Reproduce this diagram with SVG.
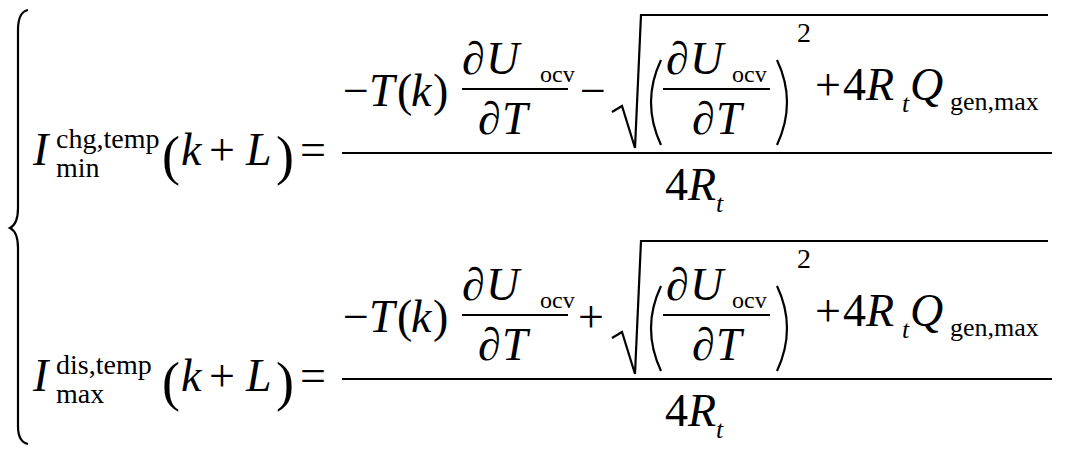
<svg xmlns="http://www.w3.org/2000/svg" width="1066" height="454" viewBox="0 0 1066 454" font-family="'Times New Roman','Liberation Serif','Nimbus Roman',Times,serif">
<style>
text{font-family:"Times New Roman","Liberation Serif",Times,serif;fill:#000;font-size:46px}
.i{font-style:italic}.s{font-size:28px}.o{font-size:24px}.g{font-size:26px}.p{font-size:54px}
.l{stroke:#000;stroke-width:2.2;fill:none}
</style>
<rect width="1066" height="454" fill="#fff"/>
<path class="l" d="M28,10 Q18,12 18,30 L18,208 Q18,224 10,228 Q18,232 18,248 L18,426 Q18,442 28,444"/>
<g id="eq1">
<text class="i" x="33" y="165">I</text>
<text class="s" x="56" y="148">chg,temp</text>
<text class="s" x="56" y="177">min</text>
<text class="p" x="162" y="174">(</text>
<text class="i" x="181" y="165">k</text>
<text x="209" y="165">+</text>
<text class="i" x="246" y="165">L</text>
<text class="p" x="276" y="174">)</text>
<text x="300" y="165">=</text>
<line class="l" x1="342" y1="153" x2="1052" y2="153"/>
<text x="343" y="106">−</text>
<text class="i" x="369" y="106">T</text>
<text x="397" y="106">(</text>
<text class="i" x="411" y="106">k</text>
<text x="433" y="106">)</text>
<text x="462" y="74">∂</text>
<text class="i" x="486" y="74">U</text>
<text class="o" x="540" y="82">ocv</text>
<line class="l" x1="462" y1="89" x2="568" y2="89"/>
<text x="478" y="134">∂</text>
<text class="i" x="502" y="134">T</text>
<text x="580" y="106">−</text>
<path class="l" d="M612,112 L622,106 L635,148 L641,15 L1048,15"/>
<path class="l" d="M661,60 Q641,102 661,145"/>
<text x="666" y="74">∂</text>
<text class="i" x="690" y="74">U</text>
<text class="o" x="732" y="82">ocv</text>
<line class="l" x1="663" y1="89" x2="770" y2="89"/>
<text x="692" y="134">∂</text>
<text class="i" x="716" y="134">T</text>
<path class="l" d="M777,60 Q797,102 777,145"/>
<text class="s" x="797" y="42">2</text>
<text x="815" y="100">+</text>
<text x="843" y="100">4</text>
<text class="i" x="866" y="100">R</text>
<text class="g i" x="902" y="112">t</text>
<text class="i" x="910" y="100">Q</text>
<text class="g" x="950" y="110">gen,max</text>
<text x="665" y="200">4</text>
<text class="i" x="688" y="200">R</text>
<text class="g i" x="716" y="212">t</text>
</g>
<g id="eq2" transform="translate(0,226)">
<text class="i" x="33" y="165">I</text>
<text class="s" x="56" y="148">dis,temp</text>
<text class="s" x="56" y="177">max</text>
<text class="p" x="162" y="174">(</text>
<text class="i" x="181" y="165">k</text>
<text x="209" y="165">+</text>
<text class="i" x="246" y="165">L</text>
<text class="p" x="276" y="174">)</text>
<text x="300" y="165">=</text>
<line class="l" x1="342" y1="153" x2="1052" y2="153"/>
<text x="343" y="106">−</text>
<text class="i" x="369" y="106">T</text>
<text x="397" y="106">(</text>
<text class="i" x="411" y="106">k</text>
<text x="433" y="106">)</text>
<text x="462" y="74">∂</text>
<text class="i" x="486" y="74">U</text>
<text class="o" x="540" y="82">ocv</text>
<line class="l" x1="462" y1="89" x2="568" y2="89"/>
<text x="478" y="134">∂</text>
<text class="i" x="502" y="134">T</text>
<text x="578" y="106">+</text>
<path class="l" d="M612,112 L622,106 L635,148 L641,15 L1048,15"/>
<path class="l" d="M661,60 Q641,102 661,145"/>
<text x="666" y="74">∂</text>
<text class="i" x="690" y="74">U</text>
<text class="o" x="732" y="82">ocv</text>
<line class="l" x1="663" y1="89" x2="770" y2="89"/>
<text x="692" y="134">∂</text>
<text class="i" x="716" y="134">T</text>
<path class="l" d="M777,60 Q797,102 777,145"/>
<text class="s" x="797" y="42">2</text>
<text x="815" y="100">+</text>
<text x="843" y="100">4</text>
<text class="i" x="866" y="100">R</text>
<text class="g i" x="902" y="112">t</text>
<text class="i" x="910" y="100">Q</text>
<text class="g" x="950" y="110">gen,max</text>
<text x="665" y="200">4</text>
<text class="i" x="688" y="200">R</text>
<text class="g i" x="716" y="212">t</text>
</g>
</svg>
